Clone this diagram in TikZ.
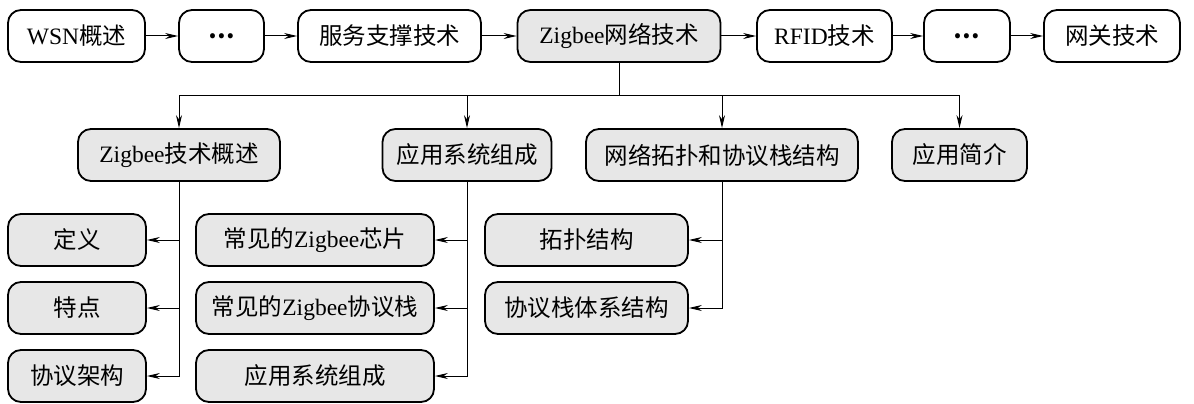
\documentclass[tikz,border=0pt]{standalone}
\usepackage{fontspec}
\setmainfont{Liberation Serif}
\newfontfamily\cjk{Noto Sans CJK SC}
\usetikzlibrary{arrows.meta}
\definecolor{boxgray}{RGB}{231,231,231}

\begin{document}
\begin{tikzpicture}[x=1pt, y=-1pt,
        box/.style={draw, line width=1.8pt, rounded corners=13pt, minimum height=52pt,
            inner sep=0pt, font=\fontsize{23.5}{28}\selectfont},
        topic/.style={box, fill=white},
        chapter/.style={box, fill=boxgray},
        link/.style={line width=1pt, -{Stealth[length=13pt, width=6pt]}}]
        \useasboundingbox (0,0) rectangle (1194,404);

        % chapter chain
        \node[topic, minimum width=137pt] (wsn) at (76.5,36) {WSN{\cjk 概述}};
        \node[topic, minimum width=85pt] (dotsA) at (221.5,36) {{\cjk\bfseries …}};
        \node[topic, minimum width=183pt] (service) at (389.5,36) {{\cjk 服务支撑技术}};
        \node[chapter, minimum width=203pt] (zigbee) at (619,36) {Zigbee{\cjk 网络技术}};
        \node[topic, minimum width=135pt] (rfid) at (824.5,36) {RFID{\cjk 技术}};
        \node[topic, minimum width=86pt] (dotsB) at (967,36) {{\cjk\bfseries …}};
        \node[topic, minimum width=136pt] (gateway) at (1112,36) {{\cjk 网关技术}};
        \draw[link] (wsn) -- (dotsA);
        \draw[link] (dotsA) -- (service);
        \draw[link] (service) -- (zigbee);
        \draw[link] (zigbee) -- (rfid);
        \draw[link] (rfid) -- (dotsB);
        \draw[link] (dotsB) -- (gateway);

        % sections
        \node[chapter, minimum width=202pt] (overview) at (179,155) {Zigbee{\cjk 技术概述}};
        \node[chapter, minimum width=169pt] (system) at (467,155) {{\cjk 应用系统组成}};
        \node[chapter, minimum width=272pt] (topology) at (722,155) {{\cjk 网络拓扑和协议栈结构}};
        \node[chapter, minimum width=135pt] (intro) at (959.5,155) {{\cjk 应用简介}};
        \coordinate (bus) at (619,95);
        \draw[line width=1pt] (zigbee.south) -- (bus);
        \draw[line width=1pt] (bus -| overview) -- (bus -| intro);
        \draw[link] (bus -| overview) -- (overview.north);
        \draw[link] (bus -| system) -- (system.north);
        \draw[link] (bus -| topology) -- (topology.north);
        \draw[link] (bus -| intro) -- (intro.north);

        % subsections
        \node[chapter, minimum width=138pt] (define) at (77,240) {{\cjk 定义}};
        \node[chapter, minimum width=138pt] (feature) at (77,308) {{\cjk 特点}};
        \node[chapter, minimum width=138pt] (arch) at (77,376) {{\cjk 协议架构}};
        \draw[link] (overview.south) |- (define.east);
        \draw[link] (overview.south) |- (feature.east);
        \draw[link] (overview.south) |- (arch.east);

        \node[chapter, minimum width=238pt] (chip) at (315,240) {{\cjk 常见的}Zigbee{\cjk 芯片}};
        \node[chapter, minimum width=238pt] (stack) at (315,308) {{\cjk 常见的}Zigbee{\cjk 协议栈}};
        \node[chapter, minimum width=238pt] (compose) at (315,376) {{\cjk 应用系统组成}};
        \draw[link] (system.south) |- (chip.east);
        \draw[link] (system.south) |- (stack.east);
        \draw[link] (system.south) |- (compose.east);

        \node[chapter, minimum width=203pt] (topo) at (586.5,240) {{\cjk 拓扑结构}};
        \node[chapter, minimum width=203pt] (layers) at (586.5,308) {{\cjk 协议栈体系结构}};
        \draw[link] (topology.south) |- (topo.east);
        \draw[link] (topology.south) |- (layers.east);
    \end{tikzpicture}
\end{document}
